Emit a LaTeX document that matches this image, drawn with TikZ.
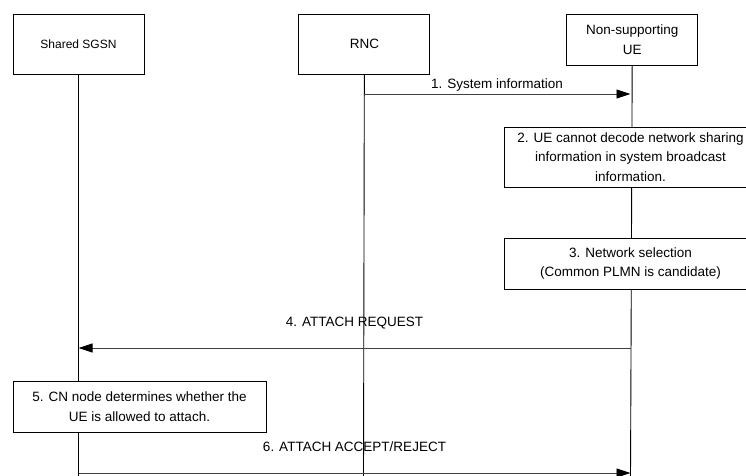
\documentclass[tikz,border=0pt]{standalone}
\usepackage{fontspec}
\setmainfont{Liberation Sans}
\usepackage{tikz}
\usetikzlibrary{arrows.meta,positioning}
\tikzstyle{entity}=[draw,fill=white,minimum width=131pt,minimum height=60pt,inner sep=0pt,align=center,font=\fontsize{13.5}{20}\selectfont]
\tikzstyle{action}=[draw,fill=white,minimum width=252pt,minimum height=51pt,inner sep=0pt,align=center,font=\fontsize{13.5}{19.5}\selectfont]
\tikzstyle{lifeline}=[draw=black]
\tikzstyle{msg}=[draw=black!75,-{Triangle[length=14pt,width=9pt,fill=black,color=black]}]
\tikzstyle{msglabel}=[midway,anchor=base,inner sep=0pt,font=\fontsize{13.5}{16}\selectfont]

\begin{document}
\begin{tikzpicture}[x=1pt,y=-1pt,line width=0.9pt]
\useasboundingbox (0,0) rectangle (746,475);
\clip (0,0) rectangle (746,475);
% entities
\node [entity,font=\fontsize{12}{14}\selectfont] (sgsn) at (78.5,44) {Shared SGSN};
\node [entity] (rnc) [right=154pt of sgsn] {RNC};
\node [entity,minimum height=51pt] (ue) [right=136pt of rnc.north east,anchor=north west] {Non-supporting\\UE};
% lifelines
\coordinate (sgsn-end) at (78.5,476);
\coordinate (rnc-end) at (363.5,476);
\coordinate (ue-end) at (630.5,476);
\draw [lifeline] (sgsn) -- (sgsn-end);
\draw [lifeline] (rnc) -- (rnc-end);
\draw [lifeline] (ue) -- (ue-end);
% steps
\node [action,minimum height=60pt] (decode) at (630.5,157) {2. UE cannot decode network sharing\\information in system broadcast\\information.};
\node [action] (select) at (630.5,263.5) {3. Network selection\\(Common PLMN is candidate)};
\node [action,minimum width=253pt] (check) at (139.5,406.5) {5. CN node determines whether the\\UE is allowed to attach.};
% messages
\coordinate (m1a) at (363.5,94);
\coordinate (m1b) at (630.5,94);
\draw [msg] (m1a) -- (m1b) node [msglabel,yshift=6pt] {1. System information};
\coordinate (m4a) at (630.5,348);
\coordinate (m4b) at (78.5,348);
\draw [msg] (m4a) -- (m4b) node [msglabel,yshift=21.5pt] {4. ATTACH REQUEST};
\coordinate (m6a) at (78.5,473);
\coordinate (m6b) at (630.5,473);
\draw [msg] (m6a) -- (m6b) node [msglabel,yshift=21.5pt] {6. ATTACH ACCEPT/REJECT};
\end{tikzpicture}
\end{document}
